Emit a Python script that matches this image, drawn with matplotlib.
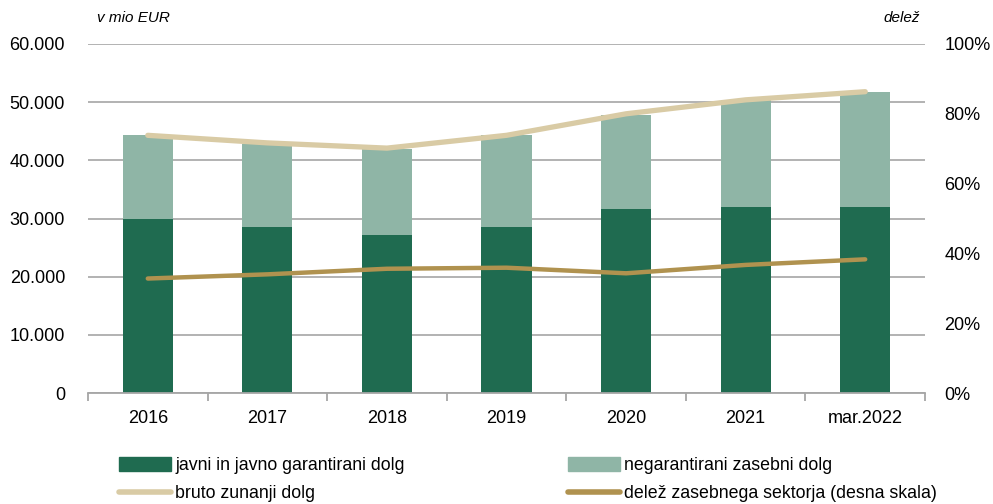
import matplotlib
matplotlib.use("Agg")
import matplotlib.pyplot as plt
import numpy as np
from matplotlib.lines import Line2D
from matplotlib.patches import Patch

plt.rcParams['font.family'] = ['Liberation Sans Narrow', 'Liberation Sans', 'DejaVu Sans']

categories = ['2016', '2017', '2018', '2019', '2020', '2021', 'mar.2022']
javni = [29900, 28500, 27100, 28500, 31600, 31900, 31900]
negarantirani = [14400, 14300, 14900, 15800, 16200, 18400, 19900]
bruto = [44300, 43000, 42100, 44300, 48000, 50400, 51800]
delez = [32.8, 34.0, 35.6, 35.9, 34.3, 36.7, 38.3]

y_left_ticks = [0, 10000, 20000, 30000, 40000, 50000, 60000]
y_left_labels = ['0', '10.000', '20.000', '30.000', '40.000', '50.000', '60.000']
y_right_ticks = [0, 20, 40, 60, 80, 100]
y_right_labels = ['0%', '20%', '40%', '60%', '80%', '100%']

c_dark = '#1F6B50'
c_light = '#8FB5A6'
c_bruto = '#D9CBA5'
c_delez = '#B0924F'

fig = plt.figure(figsize=(9.93, 5.04), dpi=100)
ax = fig.add_axes([88/993, (504-393)/504, (925-88)/993, (393-44)/504])
x = np.arange(len(categories))
w = 0.42
ax.bar(x, javni, w, color=c_dark, zorder=2)
ax.bar(x, negarantirani, w, bottom=javni, color=c_light, zorder=2)
ax.plot(x, bruto, color=c_bruto, lw=3.8, solid_capstyle='round', zorder=3)

ax.set_xlim(-0.5, len(categories) - 0.5)
ax.set_ylim(0, 60000)
ax.set_yticks(y_left_ticks)
ax.set_yticklabels(y_left_labels, fontsize=13)
ax.yaxis.grid(True, color='#ADADAD', lw=1.3, zorder=0)
ax.set_axisbelow(True)
for s in ['top', 'left', 'right']:
    ax.spines[s].set_visible(False)
ax.spines['bottom'].set_color('#A6A6A6')
ax.spines['bottom'].set_linewidth(1.3)
ax.tick_params(axis='y', length=0, pad=16.5, labelsize=13)
ax.set_xticks(x)
ax.set_xticklabels(categories, fontsize=13)
ax.tick_params(axis='x', length=0, pad=12)
ax.set_xticks(np.arange(-0.5, len(categories)), minor=True)
ax.tick_params(axis='x', which='minor', length=6, color='#A6A6A6', width=1.3, direction='out')

ax2 = ax.twinx()
ax2.plot(x, delez, color=c_delez, lw=3.2, solid_capstyle='round', zorder=3)
ax2.set_ylim(0, 100)
ax2.set_yticks(y_right_ticks)
ax2.set_yticklabels(y_right_labels, fontsize=13)
ax2.tick_params(axis='y', length=0, pad=14, labelsize=13)
for s in ['top', 'left', 'right', 'bottom']:
    ax2.spines[s].set_visible(False)

fig.text(97/993, 1 - 18/504, 'v mio EUR', fontsize=11, style='italic', va='center', ha='left')
fig.text(920/993, 1 - 18/504, 'delež', fontsize=11, style='italic', va='center', ha='right')

handles = [
    Patch(color=c_dark, label='javni in javno garantirani dolg'),
    Line2D([], [], color=c_bruto, lw=4, solid_capstyle='round', label='bruto zunanji dolg'),
    Patch(color=c_light, label='negarantirani zasebni dolg'),
    Line2D([], [], color=c_delez, lw=4, solid_capstyle='round', label='delež zasebnega sektorja (desna skala)'),
]
fig.legend(handles=handles, labels=[h.get_label() for h in handles],
           ncol=2, loc='upper left', bbox_to_anchor=(112/993, 1 - 450/504),
           frameon=False, fontsize=12.8, handlelength=2.9, handleheight=0.8,
           handletextpad=0.25, columnspacing=9.2, labelspacing=0.62, borderaxespad=0)

fig.savefig('out.png', dpi=100)
